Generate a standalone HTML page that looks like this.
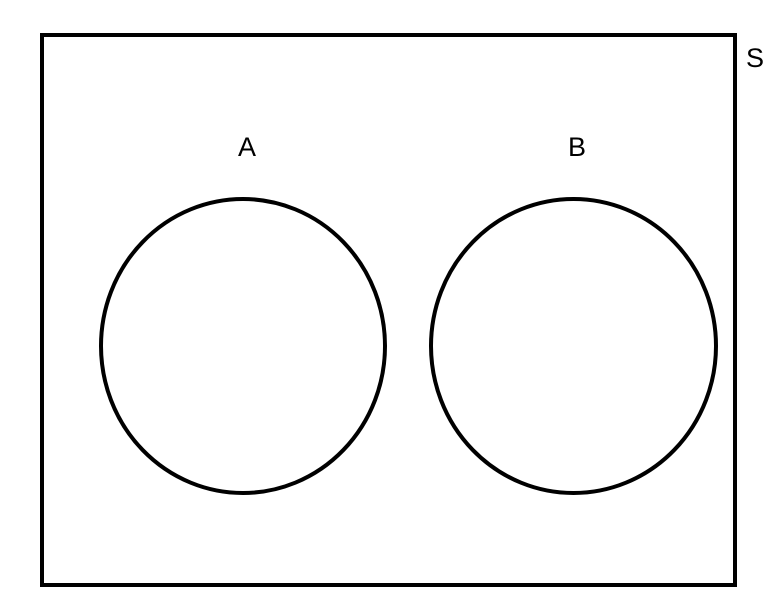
<!DOCTYPE html>
<html><head><meta charset="utf-8"><style>
html,body{margin:0;padding:0;background:#fff;width:768px;height:614px;overflow:hidden}
text{font-family:"Liberation Sans",sans-serif;font-size:27px;fill:#000}
</style></head><body>
<svg width="768" height="614" viewBox="0 0 768 614">
<rect x="42" y="35" width="693" height="550" fill="none" stroke="#000" stroke-width="4"/>
<text x="746" y="67">S</text>
<ellipse cx="243" cy="346" rx="142" ry="147" fill="none" stroke="#000" stroke-width="4"/>
<ellipse cx="573.5" cy="346" rx="142.5" ry="147" fill="none" stroke="#000" stroke-width="4"/>
<text x="247" y="156" text-anchor="middle">A</text>
<text x="577" y="156" text-anchor="middle">B</text>
</svg>
</body></html>
